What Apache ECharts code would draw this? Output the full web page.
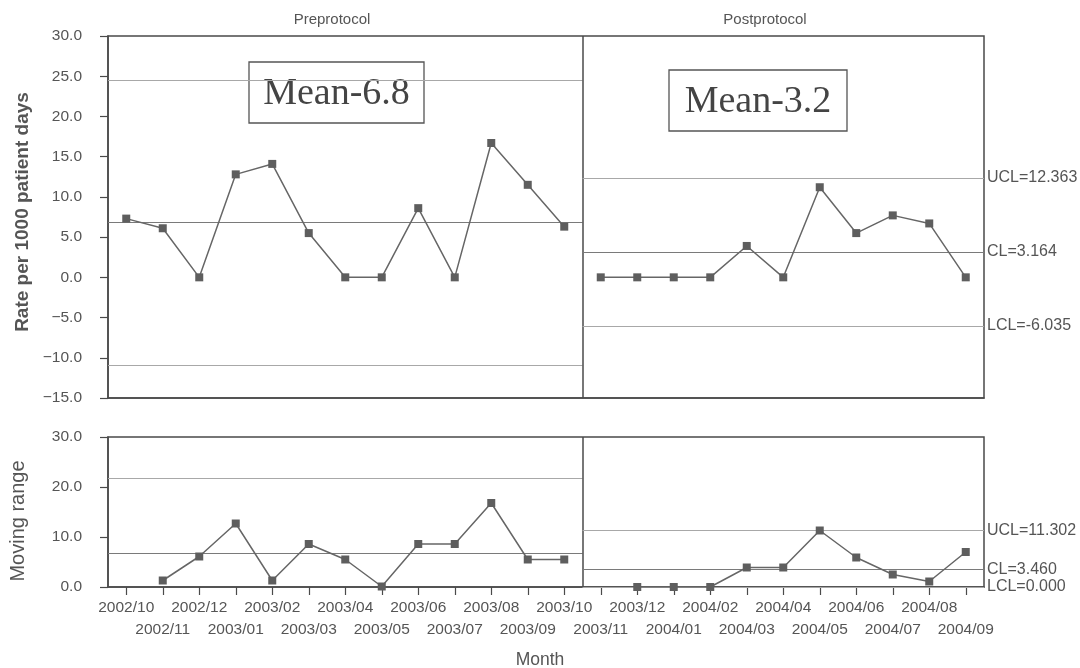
<!DOCTYPE html>
<html>
<head>
<meta charset="utf-8">
<script src="https://cdn.jsdelivr.net/npm/echarts@6/dist/echarts.min.js"></script>
<style>
html,body{margin:0;padding:0;background:#fff;}
#chart{width:1080px;height:668px;}
</style>
</head>
<body>
<div id="chart"></div>
<script>
// ---- data ----
const months = ['2002/10','2002/11','2002/12','2003/01','2003/02','2003/03','2003/04','2003/05','2003/06','2003/07','2003/08','2003/09','2003/10',
                '2003/11','2003/12','2004/01','2004/02','2004/03','2004/04','2004/05','2004/06','2004/07','2004/08','2004/09'];
const preRate  = [7.3, 6.1, 0.0, 12.8, 14.1, 5.5, 0.0, 0.0, 8.6, 0.0, 16.7, 11.5, 6.3];
const postRate = [0.0, 0.0, 0.0, 0.0, 3.9, 0.0, 11.2, 5.5, 7.7, 6.7, 0.0];
const preMR    = [null, 1.3, 6.1, 12.7, 1.3, 8.6, 5.5, 0.1, 8.6, 8.6, 16.8, 5.5, 5.5];
const postMR   = [null, 0.0, 0.0, 0.0, 3.9, 3.9, 11.3, 5.9, 2.5, 1.1, 7.0];
const limitNames     = ['UCL', 'CL', 'LCL'];
const preRateLimits  = [24.5, 6.8, -10.9];
const postRateLimits = [12.363, 3.164, -6.035];
const preMRLimits    = [21.8, 6.7];
const postMRLimits   = [11.302, 3.460, 0.000];
const rateTicks = [-15, 30, 5];   // min, max, step
const mrTicks   = [0, 30, 10];
const phaseTitles = ['Preprotocol', 'Postprotocol'];
const meanLabels  = ['Mean-6.8', 'Mean-3.2'];

// ---- build ----
const nPre = preRate.length;
const xMin = -0.5, xMax = months.length - 0.5;
const divider = nPre - 0.5;
const idx = months.map((m, i) => i);
const evenIdx = idx.filter(i => i % 2 === 0);
const oddIdx = idx.filter(i => i % 2 === 1);
const sans = '"Liberation Sans", Arial, sans-serif';
const axisCol = '#4a4a4a';
const textCol = '#555';

function limitLines(limits, x0, x1, withLabels) {
  return limits.map((v, k) => {
    const isCL = limitNames[k] === 'CL';
    return [
      { coord: [x0, v],
        lineStyle: { color: isCL ? '#7a7a7a' : '#a8a8a8', width: isCL ? 1.2 : 1, type: 'solid' } },
      { coord: [x1, v],
        label: withLabels ? { show: true, position: 'end', distance: 3, padding: [0, 0, 7, 0],
          formatter: limitNames[k] + '=' + v.toFixed(3),
          color: textCol, fontSize: 16, fontFamily: sans } : { show: false } }
    ];
  });
}
function dividerLine() {
  return { xAxis: divider, lineStyle: { color: axisCol, width: 1.5, type: 'solid' }, label: { show: false } };
}
function lineSeries(values, offset, xi, yi, marks) {
  return {
    type: 'line', xAxisIndex: xi, yAxisIndex: yi,
    data: values.map((v, i) => [i + offset, v]).filter(d => d[1] !== null),
    symbol: 'rect', symbolSize: 8, showSymbol: true,
    itemStyle: { color: '#5e5e5e' },
    lineStyle: { color: '#666', width: 1.5 },
    z: 5,
    animation: false,
    markLine: { silent: true, symbol: 'none', animation: false, data: marks, z: 3 }
  };
}
const yFmt = v => (v < 0 ? '\u2212' : '') + Math.abs(v).toFixed(1);
const xFmt = v => months[Math.round(v)];
const yAxisBase = (gi, ticks, name, bold, gap, pad) => ({
  type: 'value', gridIndex: gi, min: ticks[0], max: ticks[1], interval: ticks[2],
  name: name, nameLocation: 'middle', nameGap: gap,
  nameTextStyle: { color: textCol, fontSize: bold ? 19 : 20, fontWeight: bold ? 'bold' : 'normal', fontFamily: sans, padding: pad },
  axisLine: { show: true, onZero: false, lineStyle: { color: axisCol, width: 1.5 } },
  axisTick: { show: true, length: 8, lineStyle: { color: axisCol, width: 1.2 } },
  axisLabel: { color: textCol, fontSize: 15.5, fontFamily: sans, margin: 26, formatter: yFmt },
  splitLine: { show: false }
});

const chart = echarts.init(document.getElementById('chart'), null, { renderer: 'canvas' });
chart.setOption({
  backgroundColor: '#ffffff',
  animation: false,
  grid: [
    { left: 108, right: 96, top: 36, height: 362, show: true, borderColor: axisCol, borderWidth: 1.5,
      backgroundColor: 'transparent', containLabel: false, outerBoundsMode: 'none' },
    { left: 108, right: 96, top: 437, height: 150, show: true, borderColor: axisCol, borderWidth: 1.5,
      backgroundColor: 'transparent', containLabel: false, outerBoundsMode: 'none' }
  ],
  xAxis: [
    { type: 'value', gridIndex: 0, min: xMin, max: xMax,
      axisLine: { show: true, onZero: false, lineStyle: { color: axisCol, width: 1.5 } },
      axisTick: { show: false }, axisLabel: { show: false }, splitLine: { show: false } },
    { type: 'value', gridIndex: 1, min: xMin, max: xMax, position: 'bottom',
      name: 'Month', nameLocation: 'middle', nameGap: 64,
      nameTextStyle: { color: textCol, fontSize: 17.5, fontFamily: sans, padding: [0, 12, 0, 0] },
      axisLine: { show: true, onZero: false, lineStyle: { color: axisCol, width: 1.5 } },
      axisTick: { show: true, customValues: idx, length: 8, lineStyle: { color: axisCol, width: 1.2 } },
      axisLabel: { show: true, customValues: evenIdx, margin: 13,
        color: textCol, fontSize: 15.5, fontFamily: sans, formatter: xFmt },
      splitLine: { show: false } },
    { type: 'value', gridIndex: 1, min: xMin, max: xMax, position: 'bottom',
      axisLine: { show: false, onZero: false },
      axisTick: { show: false },
      axisLabel: { show: true, customValues: oddIdx, margin: 35,
        color: textCol, fontSize: 15.5, fontFamily: sans, formatter: xFmt },
      splitLine: { show: false } }
  ],
  yAxis: [
    yAxisBase(0, rateTicks, 'Rate per 1000 patient days', true, 76, [0, 0, 0, 10]),
    yAxisBase(1, mrTicks, 'Moving range', false, 80, [0, 18, 0, 0])
  ],
  series: [
    lineSeries(preRate, 0, 0, 0, limitLines(preRateLimits, xMin, divider, false).concat([dividerLine()])),
    lineSeries(postRate, nPre, 0, 0, limitLines(postRateLimits, divider, xMax, true)),
    lineSeries(preMR, 0, 1, 1, limitLines(preMRLimits, xMin, divider, false).concat([dividerLine()])),
    lineSeries(postMR, nPre, 1, 1, limitLines(postMRLimits, divider, xMax, true))
  ],
  graphic: [
    { type: 'text', z: 20, style: { text: phaseTitles[0], fill: textCol, font: '15px ' + sans, align: 'center', verticalAlign: 'middle' }, x: 332, y: 20 },
    { type: 'text', z: 20, style: { text: phaseTitles[1], fill: textCol, font: '15px ' + sans, align: 'center', verticalAlign: 'middle' }, x: 765, y: 20 },
    { type: 'group', x: 249, y: 62, z: 20, children: [
      { type: 'rect', shape: { x: 0, y: 0, width: 175, height: 61 }, style: { fill: '#fff', stroke: '#555', lineWidth: 1.3 } },
      { type: 'text', x: 87.5, y: 32, style: { text: meanLabels[0], fill: '#444', font: '38px "Liberation Serif", "Times New Roman", serif', align: 'center', verticalAlign: 'middle' } }
    ] },
    { type: 'group', x: 669, y: 70, z: 20, children: [
      { type: 'rect', shape: { x: 0, y: 0, width: 178, height: 61 }, style: { fill: '#fff', stroke: '#555', lineWidth: 1.3 } },
      { type: 'text', x: 89, y: 32, style: { text: meanLabels[1], fill: '#444', font: '38px "Liberation Serif", "Times New Roman", serif', align: 'center', verticalAlign: 'middle' } }
    ] }
  ]
});
</script>
</body>
</html>
